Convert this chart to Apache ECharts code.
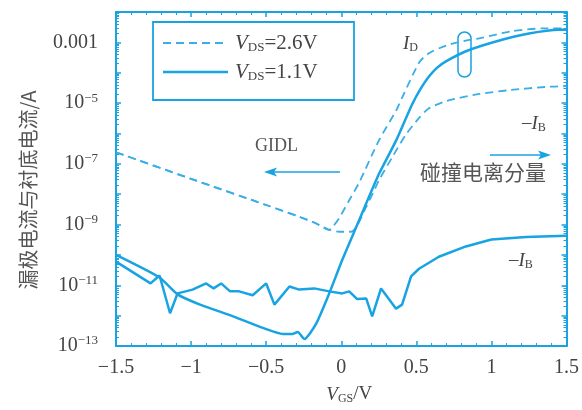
<!DOCTYPE html>
<html>
<head>
<meta charset="utf-8">
<script src="https://cdn.jsdelivr.net/npm/echarts@6/dist/echarts.min.js"></script>
<style>html,body{margin:0;padding:0;background:#fff;}#c{width:582px;height:410px;}</style>
</head>
<body>
<div id="c"></div>
<script>
// ---- data ----
// GIDL branch shared by both V_DS = 2.6 V curves
const vgsGidl = [-1.5, -1.0, -0.5, -0.28, -0.17, -0.08];
const iGidl   = [2.4e-7, 3.2e-8, 4.4e-9, 1.8e-9, 1.1e-9, 6.7e-10];
// I_D, V_DS = 2.6 V (after GIDL branch)
const vgsId26 = [-0.06, -0.013, 0.053, 0.12, 0.25, 0.365, 0.405, 0.52, 0.584, 0.70, 0.83, 0.92, 1.13, 1.36, 1.5];
const id26    = [8.0e-10, 1.66e-9, 6.3e-9, 2.45e-8, 5.8e-7, 5.6e-6, 1.5e-5, 2.2e-4, 4.4e-4, 7.9e-4, 1.15e-3, 1.35e-3, 2.3e-3, 2.9e-3, 2.9e-3];
// -I_B, V_DS = 2.6 V (after GIDL branch)
const vgsIb26 = [-0.013, 0.066, 0.166, 0.252, 0.338, 0.43, 0.52, 0.58, 0.70, 0.92, 1.13, 1.36, 1.5];
const ib26    = [5.8e-10, 5.8e-10, 3.8e-9, 2.9e-8, 1.6e-7, 9.1e-7, 3.3e-6, 6.5e-6, 1.17e-5, 2.0e-5, 2.7e-5, 3.4e-5, 3.6e-5];
// I_D, V_DS = 1.1 V
const vgsId11 = [-1.5, -1.21, -1.09, -0.94, -0.72, -0.50, -0.39, -0.325, -0.29, -0.246, -0.166, -0.08, 0.007, 0.10, 0.25, 0.365, 0.47, 0.531, 0.584, 0.637, 0.70, 0.83, 1.03, 1.25, 1.45, 1.5];
const id11    = [1.0e-10, 1.8e-11, 5.0e-12, 2.3e-12, 9.5e-13, 3.6e-13, 2.5e-13, 2.5e-13, 2.9e-13, 1.7e-13, 5.6e-13, 5.4e-12, 6.9e-11, 8.3e-10, 4.5e-8, 5.8e-7, 8.7e-6, 3.1e-5, 7.5e-5, 1.45e-4, 2.4e-4, 5.1e-4, 1.07e-3, 1.95e-3, 2.6e-3, 2.6e-3];
// -I_B, V_DS = 1.1 V
const vgsIb11 = [-1.5, -1.27, -1.21, -1.14, -1.09, -0.99, -0.90, -0.85, -0.80, -0.74, -0.68, -0.59, -0.50, -0.445, -0.345, -0.28, -0.18, -0.08, 0.007, 0.053, 0.106, 0.166, 0.206, 0.265, 0.365, 0.405, 0.465, 0.518, 0.65, 0.83, 1.0, 1.23, 1.5];
const ib11    = [6.0e-11, 1.15e-11, 2.1e-11, 1.2e-12, 5.4e-12, 7.2e-12, 1.15e-11, 7.9e-12, 1.15e-11, 6.3e-12, 6.3e-12, 4.7e-12, 1.15e-11, 2.3e-12, 9.1e-12, 7.2e-12, 7.9e-12, 6.3e-12, 5.4e-12, 6.3e-12, 3.5e-12, 3.7e-12, 9.5e-13, 7.9e-12, 1.7e-12, 2.3e-12, 1.95e-11, 3.5e-11, 8.7e-11, 1.9e-10, 3.2e-10, 3.9e-10, 4.3e-10];
// ticks / labels
const xTicks = [-1.5, -1, -0.5, 0, 0.5, 1, 1.5];
const yLabelExps = [-3, -5, -7, -9, -11, -13];
const yLabelTexts = {'-3': '0.001'};
const legendNames = ['=2.6V', '=1.1V'];

const pairs = (xs, ys) => xs.map((x, i) => [x, ys[i]]);
const BLUE = '#18a3e2';
const DBLUE = '#3aaee6';
const TXT = '#444';
const SERIF = '"Liberation Serif","Times New Roman",serif';
const CJK = '"Noto Sans CJK SC",sans-serif';

const chart = echarts.init(document.getElementById('c'), null, {renderer: 'canvas'});

const xAxisBase = {
  type: 'value', min: -1.5, max: 1.5, interval: 0.5,
  axisLine: {show: true, onZero: false, lineStyle: {color: BLUE, width: 2}},
  axisTick: {show: true, inside: true, length: 5, lineStyle: {color: BLUE, width: 1.5}},
  minorTick: {show: true, splitNumber: 5, length: 3, lineStyle: {color: BLUE, width: 1}},
  splitLine: {show: false}
};
const yAxisBase = {
  type: 'log', logBase: 10, min: 1e-13, max: 1e-2, interval: 1,
  axisLine: {show: true, onZero: false, lineStyle: {color: BLUE, width: 2}},
  axisTick: {show: true, inside: true, length: 5, lineStyle: {color: BLUE, width: 1.5}},
  minorTick: {show: true, splitNumber: 9, length: 3, lineStyle: {color: BLUE, width: 1}},
  splitLine: {show: false}
};
const subRich = (fs) => ({
  i: {fontFamily: SERIF, fontStyle: 'italic', fontSize: fs, fill: TXT, color: TXT},
  sub: {fontFamily: SERIF, fontSize: Math.round(fs * 0.62), fill: TXT, color: TXT, padding: [Math.round(fs * 0.47), 0, 0, 0]},
  n: {fontFamily: SERIF, fontSize: fs, fill: TXT, color: TXT}
});

chart.setOption({
  animation: false,
  backgroundColor: '#fff',
  grid: {left: 116, right: 14, top: 12, bottom: 60},
  xAxis: [
    Object.assign({}, xAxisBase, {
      position: 'bottom',
      name: '{i|V}{sub|GS}{n|/V}', nameLocation: 'middle', nameGap: 38,
      nameTextStyle: {padding: [0, 0, 0, 16], rich: subRich(19)},
      axisLabel: {
        margin: 12, fontFamily: SERIF, fontSize: 20, color: TXT,
        formatter: v => xTicks.includes(+v.toFixed(2)) ? String(v).replace('-', '\u2212') : ''
      }
    }),
    Object.assign({}, xAxisBase, {position: 'top', axisLabel: {show: false}})
  ],
  yAxis: [
    Object.assign({}, yAxisBase, {
      position: 'left',
      axisLabel: {
        margin: 18, fontFamily: SERIF, fontSize: 20, color: TXT,
        formatter: v => {
          const e = Math.round(Math.log10(v));
          if (!yLabelExps.includes(e)) return '';
          if (yLabelTexts[e]) return yLabelTexts[e];
          return '10{sup|\u2212' + (-e) + '}';
        },
        rich: {sup: {fontFamily: SERIF, fontSize: 13, color: TXT, padding: [0, 0, 10, 0]}}
      }
    }),
    Object.assign({}, yAxisBase, {position: 'right', axisLabel: {show: false}})
  ],
  series: [
    {name: 'V_DS=2.6V I_D', type: 'line', symbol: 'none', smooth: 0.25, data: pairs(vgsGidl.concat(vgsId26), iGidl.concat(id26)),
      lineStyle: {color: DBLUE, width: 1.8, type: [8, 5]}},
    {name: 'V_DS=2.6V I_B', type: 'line', symbol: 'none', smooth: 0.25, data: pairs(vgsGidl.concat(vgsIb26), iGidl.concat(ib26)),
      lineStyle: {color: DBLUE, width: 1.8, type: [8, 5]}},
    {name: 'V_DS=1.1V I_D', type: 'line', symbol: 'none', smooth: 0.2, data: pairs(vgsId11, id11),
      lineStyle: {color: BLUE, width: 2.5}},
    {name: 'V_DS=1.1V I_B', type: 'line', symbol: 'none', data: pairs(vgsIb11, ib11),
      lineStyle: {color: BLUE, width: 2.5}}
  ],
  graphic: [
    // y-axis title
    {type: 'text', x: 28, y: 190, rotation: Math.PI / 2,
      style: {text: '漏极电流与衬底电流/A', fontFamily: CJK, fontSize: 20, fill: '#555', align: 'center', verticalAlign: 'middle'}},
    // legend box
    {type: 'rect', shape: {x: 153, y: 22, width: 201, height: 78}, style: {fill: 'none', stroke: BLUE, lineWidth: 1.8}},
    {type: 'line', shape: {x1: 163, y1: 43, x2: 228, y2: 43}, style: {stroke: DBLUE, lineWidth: 1.8, lineDash: [8, 5]}},
    {type: 'line', shape: {x1: 163, y1: 72, x2: 228, y2: 72}, style: {stroke: BLUE, lineWidth: 2.5}},
    {type: 'text', x: 235, y: 43, style: {text: '{i|V}{sub|DS}{n|' + legendNames[0] + '}', verticalAlign: 'middle', rich: subRich(21)}},
    {type: 'text', x: 235, y: 72, style: {text: '{i|V}{sub|DS}{n|' + legendNames[1] + '}', verticalAlign: 'middle', rich: subRich(21)}},
    // annotations
    {type: 'text', x: 403, y: 33, style: {text: '{i|I}{sub|D}', rich: subRich(19)}},
    {type: 'rect', shape: {x: 458, y: 32, width: 13, height: 45, r: 6.5}, style: {fill: 'none', stroke: BLUE, lineWidth: 1.5}},
    {type: 'text', x: 522, y: 113, style: {text: '{n|\u2013}{i|I}{sub|B}', rich: subRich(19)}},
    {type: 'text', x: 509, y: 250, style: {text: '{n|\u2013}{i|I}{sub|B}', rich: subRich(19)}},
    {type: 'text', x: 255, y: 137, style: {text: 'GIDL', fontFamily: SERIF, fontSize: 18, fill: '#555'}},
    {type: 'line', shape: {x1: 340, y1: 172, x2: 272, y2: 172}, style: {stroke: BLUE, lineWidth: 1.5}},
    {type: 'polygon', shape: {points: [[264, 172], [277, 167.5], [274, 172], [277, 176.5]]}, style: {fill: BLUE}},
    {type: 'line', shape: {x1: 490, y1: 155, x2: 543, y2: 155}, style: {stroke: BLUE, lineWidth: 1.5}},
    {type: 'polygon', shape: {points: [[551, 155], [538, 150.5], [541, 155], [538, 159.5]]}, style: {fill: BLUE}},
    {type: 'text', x: 420, y: 162, style: {text: '碰撞电离分量', fontFamily: CJK, fontSize: 21, fill: '#555'}}
  ]
});
</script>
</body>
</html>
